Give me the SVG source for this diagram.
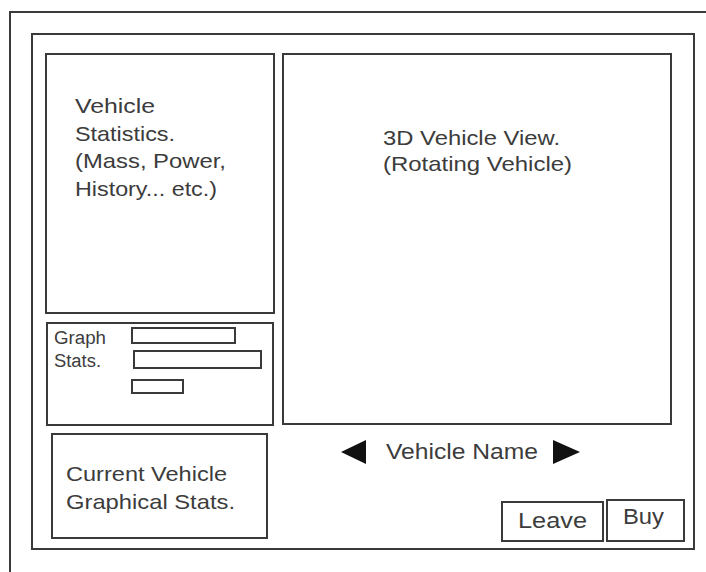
<svg xmlns="http://www.w3.org/2000/svg" width="706" height="572" viewBox="0 0 706 572">
<style>
.box{fill:none;stroke:#3a3a3a;stroke-width:2}
.t{font-family:"Liberation Sans","DejaVu Sans",sans-serif;fill:#3c3c3c}
.f20{font-size:21px}
.f17{font-size:18px}
.f21{font-size:22px}
.arr{fill:#111}
</style>
<rect width="706" height="572" fill="#ffffff"/>
<g id="outer-frame">
<path class="box" d="M10 572 V12 H706"/>
</g>
<g id="window">
<rect class="box" x="32" y="34" width="662" height="515"/>
</g>
<g id="vehicle-statistics">
<rect class="box" x="46" y="54" width="228" height="259"/>
<text class="t f20" x="75" y="113" textLength="80" lengthAdjust="spacingAndGlyphs">Vehicle</text>
<text class="t f20" x="75" y="141" textLength="100" lengthAdjust="spacingAndGlyphs">Statistics.</text>
<text class="t f20" x="75" y="168" textLength="151" lengthAdjust="spacingAndGlyphs">(Mass, Power,</text>
<text class="t f20" x="75" y="196" textLength="142" lengthAdjust="spacingAndGlyphs">History... etc.)</text>
</g>
<g id="graph-stats">
<rect class="box" x="47" y="323" width="226" height="102"/>
<text class="t f17" x="54" y="344" textLength="52" lengthAdjust="spacingAndGlyphs">Graph</text>
<text class="t f17" x="54" y="367" textLength="47" lengthAdjust="spacingAndGlyphs">Stats.</text>
<rect class="box" x="132" y="328" width="103" height="15"/>
<rect class="box" x="134" y="351" width="127" height="17"/>
<rect class="box" x="132" y="380" width="51" height="13"/>
</g>
<g id="current-vehicle">
<rect class="box" x="52" y="434" width="215" height="104"/>
<text class="t f20" x="66" y="481" textLength="161" lengthAdjust="spacingAndGlyphs">Current Vehicle</text>
<text class="t f20" x="66" y="509" textLength="169" lengthAdjust="spacingAndGlyphs">Graphical Stats.</text>
</g>
<g id="vehicle-view">
<rect class="box" x="283" y="54" width="388" height="370"/>
<text class="t f20" x="383" y="145" textLength="177" lengthAdjust="spacingAndGlyphs">3D Vehicle View.</text>
<text class="t f20" x="383" y="171" textLength="189" lengthAdjust="spacingAndGlyphs">(Rotating Vehicle)</text>
</g>
<g id="vehicle-name">
<polygon class="arr" points="341,452 366,440 366,464"/>
<text class="t f21" x="386" y="459" textLength="152" lengthAdjust="spacingAndGlyphs">Vehicle Name</text>
<polygon class="arr" points="553,440 553,464 580,452"/>
</g>
<g id="leave">
<rect class="box" x="502" y="502" width="101" height="39"/>
<text class="t f21" x="518" y="528" textLength="69" lengthAdjust="spacingAndGlyphs">Leave</text>
</g>
<g id="buy">
<rect class="box" x="607" y="500" width="77" height="41"/>
<text class="t f21" x="623" y="524" textLength="41" lengthAdjust="spacingAndGlyphs">Buy</text>
</g>
<g id="connectors"></g>
</svg>
